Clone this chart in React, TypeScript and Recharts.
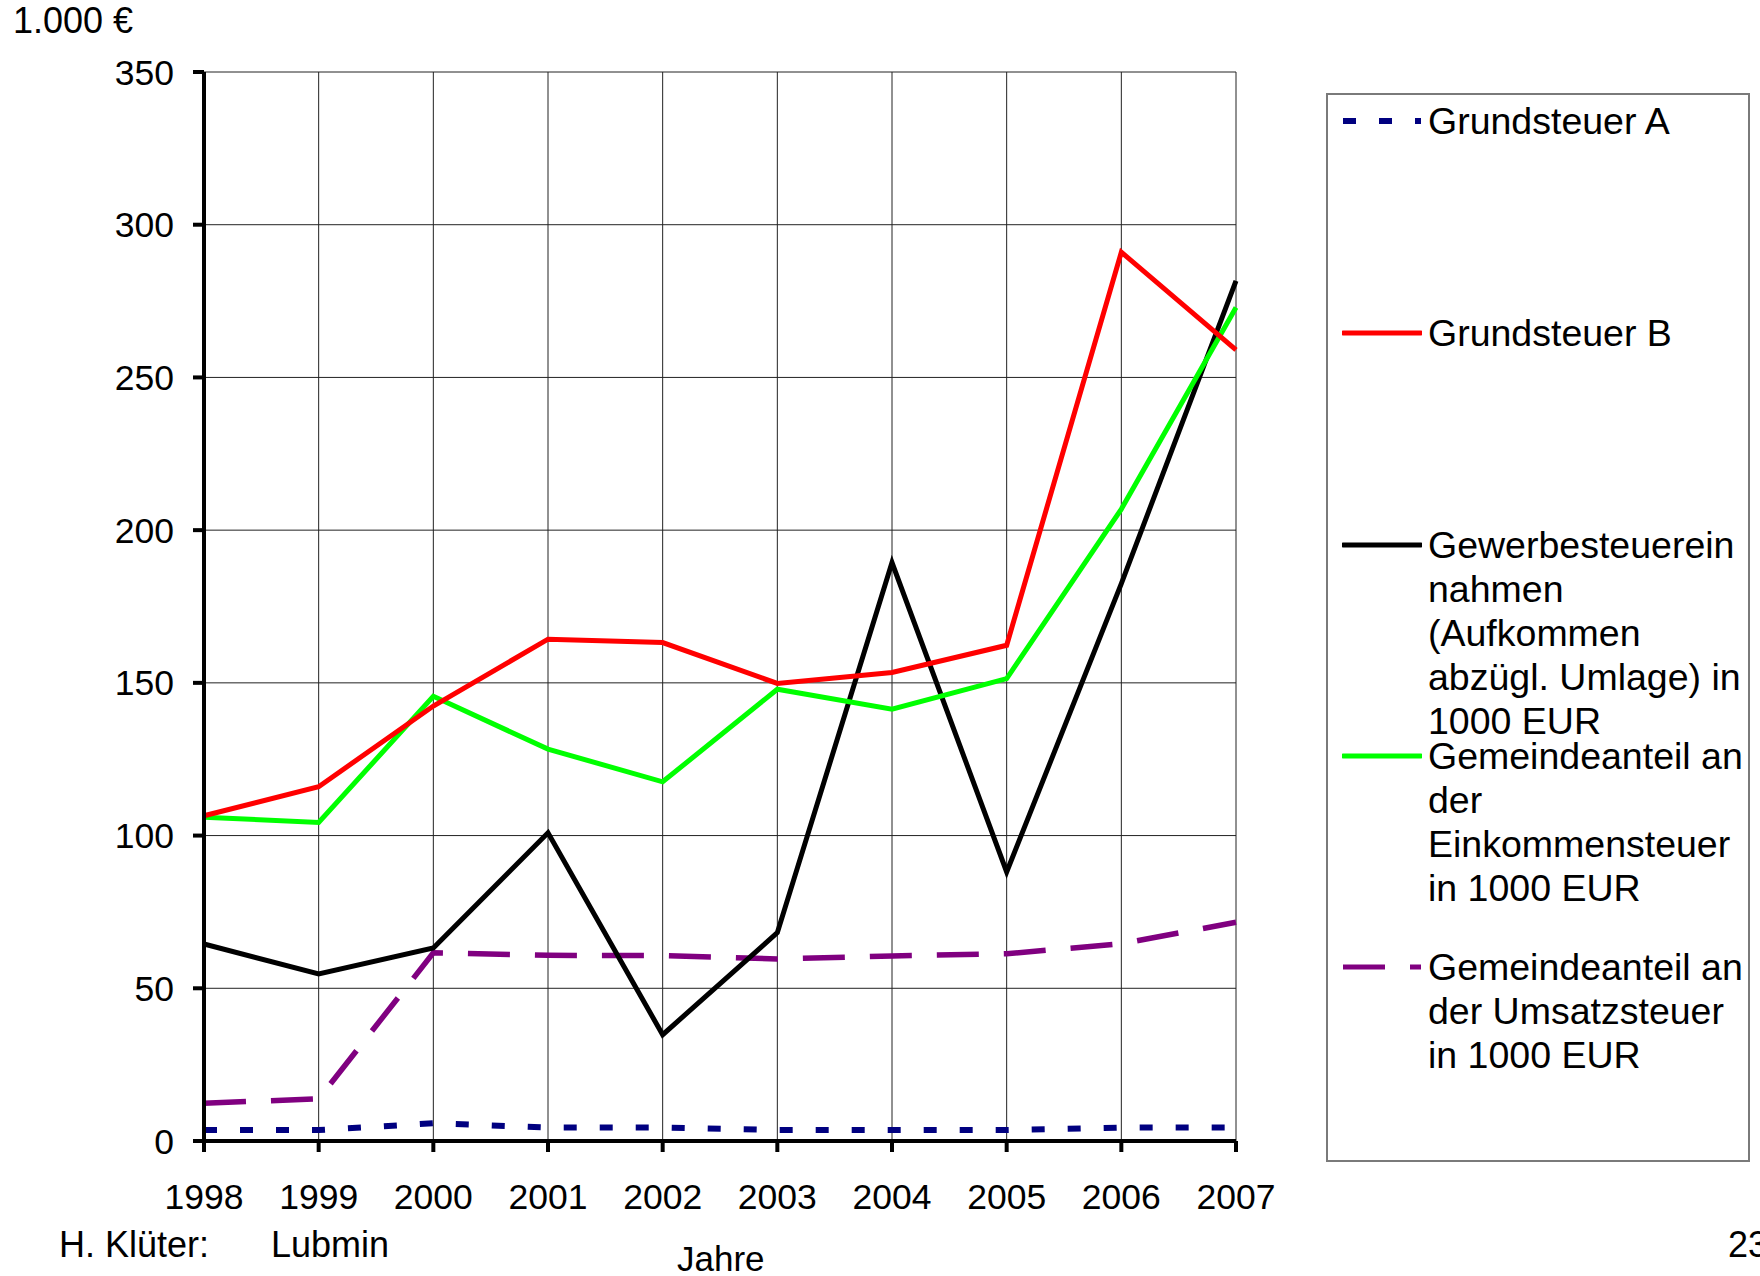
import React from 'react';
import { LineChart, Line, XAxis, YAxis, CartesianGrid, Legend } from 'recharts';

const years = [1998, 1999, 2000, 2001, 2002, 2003, 2004, 2005, 2006, 2007];
const grundsteuerA = [3.6, 3.6, 5.8, 4.4, 4.4, 3.6, 3.6, 3.6, 4.4, 4.4];
const grundsteuerB = [106.5, 116, 142.4, 164.3, 163.2, 149.8, 153.4, 162.3, 291, 259];
const gewerbe = [64.5, 54.7, 63.2, 100.9, 34.8, 68.2, 189.4, 88.1, 182.5, 281.6];
const einkommen = [106, 104.3, 145.6, 128.3, 117.6, 147.9, 141.4, 151.4, 206.9, 272.9];
const umsatz = [12.4, 13.8, 61.6, 60.8, 60.7, 59.6, 60.6, 61.3, 64.6, 71.6];
const yTicks = [0, 50, 100, 150, 200, 250, 300, 350];

const data = years.map((y, i) => ({
  year: y,
  a: grundsteuerA[i],
  b: grundsteuerB[i],
  gew: gewerbe[i],
  eink: einkommen[i],
  ums: umsatz[i],
}));

const FONT = '"Liberation Sans", Arial, sans-serif';

const legendItems = [
  { key: 'a', color: '#000080', dash: '13 23', top: 26, lines: ['Grundsteuer A'] },
  { key: 'b', color: '#FF0000', dash: undefined, top: 238, lines: ['Grundsteuer B'] },
  {
    key: 'gew', color: '#000000', dash: undefined, top: 450,
    lines: ['Gewerbesteuerein', 'nahmen', '(Aufkommen', 'abzügl. Umlage) in', '1000 EUR'],
  },
  {
    key: 'eink', color: '#00FF00', dash: undefined, top: 661,
    lines: ['Gemeindeanteil an', 'der', 'Einkommensteuer', 'in 1000 EUR'],
  },
  {
    key: 'ums', color: '#800080', dash: '42 25', top: 872,
    lines: ['Gemeindeanteil an', 'der Umsatzsteuer', 'in 1000 EUR'],
  },
];

const renderLegend = () => (
  <div style={{ position: 'relative', width: '100%', height: '100%', fontFamily: FONT }}>
    {legendItems.map((it) => (
      <div key={it.key}>
        <svg
          width={80}
          height={12}
          style={{ position: 'absolute', left: 14, top: it.top - 6 }}
        >
          <line
            x1={1}
            y1={6}
            x2={79}
            y2={6}
            stroke={it.color}
            strokeWidth={it.key === 'a' ? 6 : 5}
            strokeDasharray={it.dash}
            strokeLinecap={it.dash ? 'butt' : 'round'}
          />
        </svg>
        <div
          style={{
            position: 'absolute',
            left: 100,
            top: it.top - 22,
            fontSize: 37.5,
            lineHeight: '44px',
            color: '#000',
            whiteSpace: 'nowrap',
          }}
        >
          {it.lines.map((l, i) => (
            <div key={i}>{l}</div>
          ))}
        </div>
      </div>
    ))}
  </div>
);

export default function App() {
  return (
    <div
      style={{
        position: 'absolute',
        left: 0,
        top: 0,
        width: 1760,
        height: 1276,
        background: '#fff',
        overflow: 'hidden',
        fontFamily: FONT,
      }}
    >
      <LineChart
        width={1760}
        height={1276}
        data={data}
        margin={{ top: 72, right: 524, bottom: 75, left: 0 }}
      >
        <CartesianGrid stroke="#222" strokeWidth={1} horizontal vertical />
        <XAxis
          dataKey="year"
          type="number"
          domain={[1998, 2007]}
          ticks={years}
          allowDecimals={false}
          height={60}
          tickSize={11}
          tickMargin={32}
          axisLine={{ stroke: '#000', strokeWidth: 4 }}
          tickLine={{ stroke: '#000', strokeWidth: 4 }}
          tick={{ fill: '#000', fontSize: 35.5, fontFamily: FONT }}
        />
        <YAxis
          type="number"
          domain={[0, 350]}
          ticks={yTicks}
          width={204}
          tickSize={11}
          tickMargin={19}
          axisLine={{ stroke: '#000', strokeWidth: 4 }}
          tickLine={{ stroke: '#000', strokeWidth: 4 }}
          tick={{ fill: '#000', fontSize: 35.5, fontFamily: FONT }}
        />
        <Legend
          layout="vertical"
          align="center"
          verticalAlign="middle"
          content={renderLegend}
          wrapperStyle={{
            position: 'absolute',
            left: 1326,
            top: 93,
            width: 424,
            height: 1069,
            border: '2px solid #7a7a7a',
            boxSizing: 'border-box',
            background: '#fff',
          }}
        />
        <Line
          dataKey="a"
          name="Grundsteuer A"
          stroke="#000080"
          strokeWidth={6}
          strokeDasharray="13 23"
          dot={false}
          isAnimationActive={false}
        />
        <Line
          dataKey="ums"
          name="Gemeindeanteil an der Umsatzsteuer in 1000 EUR"
          stroke="#800080"
          strokeWidth={5.5}
          strokeDasharray="42 25"
          dot={false}
          isAnimationActive={false}
        />
        <Line
          dataKey="gew"
          name="Gewerbesteuereinnahmen"
          stroke="#000000"
          strokeWidth={5}
          dot={false}
          isAnimationActive={false}
        />
        <Line
          dataKey="eink"
          name="Gemeindeanteil an der Einkommensteuer in 1000 EUR"
          stroke="#00FF00"
          strokeWidth={5}
          dot={false}
          isAnimationActive={false}
        />
        <Line
          dataKey="b"
          name="Grundsteuer B"
          stroke="#FF0000"
          strokeWidth={5}
          dot={false}
          isAnimationActive={false}
        />
      </LineChart>
      <div style={{ position: 'absolute', left: 13, top: 0, fontSize: 36, lineHeight: '42px', color: '#000' }}>
        1.000 €
      </div>
      <div style={{ position: 'absolute', left: 59, top: 1224, fontSize: 36, lineHeight: '42px', color: '#000' }}>
        H. Klüter:
      </div>
      <div style={{ position: 'absolute', left: 271, top: 1224, fontSize: 36, lineHeight: '42px', color: '#000' }}>
        Lubmin
      </div>
      <div style={{ position: 'absolute', left: 677, top: 1242, fontSize: 35, lineHeight: '34px', color: '#000' }}>
        Jahre
      </div>
      <div style={{ position: 'absolute', left: 1728, top: 1224, fontSize: 36, lineHeight: '42px', color: '#000', whiteSpace: 'nowrap' }}>
        23
      </div>
    </div>
  );
}
